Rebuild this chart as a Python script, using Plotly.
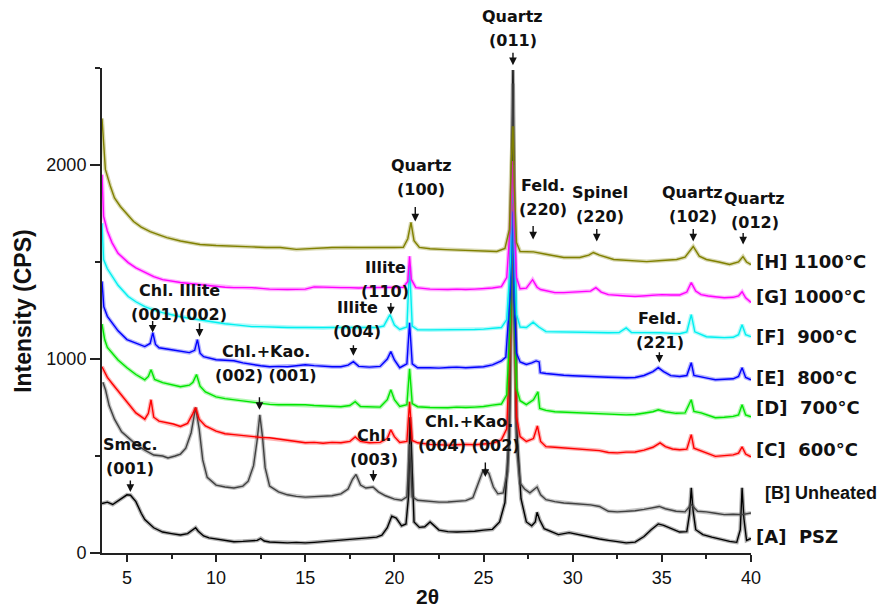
import plotly.graph_objects as go

# ---------------- data (2theta, intensity CPS) ----------------
two_theta_A = [3.6, 3.9, 4.2, 4.5, 4.8, 5.0, 5.2, 5.5, 5.8, 6.0, 6.5, 7.0, 7.5, 8.0, 8.4, 8.7, 8.85, 9.0, 9.3, 9.6,
               10.0, 10.5, 11.0, 11.5, 12.0, 12.3, 12.5, 12.7, 13.0, 13.5, 14.0, 14.5, 15.0, 15.5, 16.0, 16.5, 17.0, 17.5, 18.0, 18.5,
               19.0, 19.3, 19.6, 19.85, 20.1, 20.4, 20.65, 20.8, 20.87, 20.95, 21.1, 21.4, 21.7, 22.0, 22.2, 22.5, 23.0, 23.5, 24.0, 24.5,
               25.0, 25.5, 25.9, 26.2, 26.45, 26.58, 26.65, 26.72, 26.85, 27.1, 27.4, 27.7, 27.9, 28.0, 28.15, 28.4, 28.8, 29.2, 29.8, 30.3,
               30.8, 31.5, 32.0, 32.5, 33.0, 33.5, 34.0, 34.4, 34.8, 35.1, 35.5, 36.0, 36.4, 36.55, 36.65, 36.75, 36.9, 37.3, 37.8, 38.3,
               38.8, 39.2, 39.4, 39.5, 39.6, 39.75, 40.0]
psz = [255, 262, 250, 270, 290, 300, 298, 265, 205, 172, 130, 108, 100, 93, 100, 118, 130, 112, 88, 78,
       72, 65, 58, 60, 62, 65, 75, 62, 57, 55, 52, 55, 52, 55, 58, 62, 66, 70, 74, 77,
       82, 92, 130, 190, 180, 140, 150, 300, 700, 560, 160, 132, 135, 160, 145, 118, 110, 108, 110, 112,
       118, 122, 160, 260, 600, 1800, 2490, 1700, 650, 280, 160, 140, 160, 210, 170, 125, 108, 95, 105, 95,
       85, 72, 65, 60, 52, 56, 85, 120, 150, 142, 125, 108, 110, 200, 336, 220, 120, 95, 82, 70,
       60, 55, 120, 336, 180, 65, 75]

two_theta_B = [3.65, 3.8, 4.0, 4.3, 4.7, 5.0, 5.5, 6.0, 6.5, 7.0, 7.3, 7.7, 8.0, 8.3, 8.6, 8.85, 9.05, 9.25, 9.5, 10.0,
               10.5, 11.0, 11.5, 11.8, 12.1, 12.3, 12.45, 12.6, 12.75, 13.0, 13.5, 14.0, 14.5, 15.0, 15.5, 16.0, 16.5, 17.0, 17.4, 17.65,
               17.85, 18.1, 18.4, 18.8, 19.1, 19.5, 20.0, 20.4, 20.7, 20.85, 21.0, 21.3, 22.0, 22.5, 23.0, 23.5, 24.0, 24.4, 24.7, 24.95,
               25.1, 25.3, 25.55, 25.8, 26.1, 26.35, 26.5, 26.6, 26.65, 26.72, 26.85, 27.05, 27.3, 27.6, 28.0, 28.2, 28.5, 29.0, 29.5, 30.0,
               31.0, 31.5, 32.0, 32.5, 33.0, 33.5, 34.0, 34.5, 34.85, 35.2, 35.8, 36.3, 36.65, 37.0, 37.5, 38.0, 38.5, 39.0, 39.5, 40.0]
unheated = [880, 840, 760, 690, 625, 600, 560, 530, 505, 500, 490, 500, 510, 540, 620, 750, 640, 480, 390, 350,
            340, 335, 345, 370, 450, 580, 712, 600, 440, 345, 315, 300, 292, 288, 290, 292, 295, 305, 330, 380,
            405, 350, 335, 340, 315, 295, 278, 272, 290, 560, 290, 272, 265, 262, 263, 266, 270, 285, 360, 420,
            428, 410, 340, 305, 310, 420, 900, 2200, 2420, 1500, 550, 360, 330, 310, 340, 300, 275, 265, 258, 255,
            248, 240, 215, 212, 215, 218, 225, 232, 240, 228, 215, 212, 250, 215, 212, 205, 198, 200, 198, 206]

two_theta_C = [3.6, 3.75, 3.9, 4.2, 4.5, 5.0, 5.5, 6.0, 6.2, 6.35, 6.5, 6.8, 7.2, 7.6, 8.0, 8.4, 8.7, 8.85, 9.05, 9.4,
               10.0, 10.5, 11.0, 11.5, 12.0, 12.5, 13.0, 13.5, 14.0, 14.5, 15.0, 15.5, 16.0, 16.5, 17.0, 17.5, 17.8, 18.1, 18.6, 19.2,
               19.6, 19.8, 20.0, 20.3, 20.7, 20.85, 21.0, 21.3, 22.0, 22.5, 23.0, 23.5, 24.0, 24.5, 25.0, 25.5, 26.0, 26.3, 26.5, 26.6,
               26.65, 26.72, 26.85, 27.05, 27.4, 27.8, 28.02, 28.2, 28.5, 29.0, 29.5, 30.0, 30.5, 31.0, 31.5, 32.0, 32.5, 33.0, 33.5, 34.0,
               34.5, 34.9, 35.2, 35.6, 36.0, 36.4, 36.65, 36.8, 37.2, 37.6, 38.0, 38.5, 39.0, 39.3, 39.5, 39.7, 40.0]
c600 = [960, 930, 905, 870, 835, 775, 722, 690, 720, 790, 700, 680, 672, 665, 652, 668, 720, 750, 690, 655,
        628, 615, 610, 605, 600, 596, 594, 588, 584, 575, 568, 570, 566, 570, 568, 575, 598, 575, 568, 570,
        590, 635, 600, 570, 575, 780, 580, 568, 560, 558, 556, 558, 560, 558, 562, 566, 583, 640, 1100, 1700,
        1800, 1300, 700, 600, 575, 590, 655, 575, 548, 545, 542, 538, 535, 532, 528, 518, 516, 520, 521, 530,
        545, 568, 548, 536, 532, 535, 610, 540, 528, 512, 498, 502, 506, 515, 547, 510, 496]

two_theta_D = [3.6, 3.75, 3.9, 4.2, 4.5, 5.0, 5.5, 6.0, 6.2, 6.35, 6.55, 7.0, 7.5, 8.0, 8.5, 8.7, 8.9, 9.1, 9.4, 10.0,
               10.5, 11.0, 11.5, 12.0, 12.5, 13.0, 13.5, 14.0, 14.5, 15.0, 15.5, 16.0, 16.5, 17.0, 17.5, 17.8, 18.1, 18.6, 19.2, 19.6,
               19.8, 20.0, 20.3, 20.7, 20.85, 21.0, 21.3, 22.0, 22.5, 23.0, 23.5, 24.0, 24.5, 25.0, 25.5, 26.0, 26.3, 26.5, 26.6, 26.65,
               26.72, 26.85, 27.05, 27.4, 27.8, 28.05, 28.15, 28.5, 29.0, 29.5, 30.0, 31.0, 31.5, 32.0, 33.0, 33.5, 34.0, 34.5, 34.8, 35.2,
               35.8, 36.3, 36.65, 36.8, 37.2, 37.6, 38.0, 38.5, 39.0, 39.3, 39.5, 39.7, 40.0]
c700 = [1180, 1100, 1060, 1025, 995, 955, 920, 893, 910, 945, 895, 878, 868, 857, 865, 880, 920, 860, 830, 805,
        796, 790, 785, 780, 775, 766, 764, 764, 762, 764, 760, 758, 756, 754, 760, 780, 755, 752, 752, 790,
        841, 790, 755, 765, 950, 770, 754, 750, 748, 749, 752, 750, 752, 755, 762, 768, 815, 1200, 1650, 1700,
        1250, 850, 785, 765, 790, 831, 745, 735, 728, 726, 724, 722, 720, 716, 712, 714, 720, 728, 738, 728,
        720, 722, 790, 730, 722, 708, 697, 700, 704, 712, 764, 712, 702]

two_theta_E = [3.6, 3.7, 3.9, 4.16, 4.5, 5.0, 5.5, 6.0, 6.3, 6.45, 6.6, 6.8, 7.5, 8.0, 8.5, 8.8, 8.95, 9.1, 9.3, 10.0,
               10.5, 11.0, 11.5, 12.0, 12.5, 13.0, 13.5, 14.0, 14.5, 15.0, 15.5, 16.0, 16.5, 17.0, 17.4, 17.7, 18.0, 18.6, 19.2, 19.6,
               19.8, 20.0, 20.3, 20.7, 20.85, 21.0, 21.3, 22.0, 22.5, 23.0, 23.5, 24.0, 24.5, 25.0, 25.5, 26.0, 26.25, 26.5, 26.6, 26.65,
               26.72, 26.85, 27.05, 27.4, 27.7, 27.95, 28.12, 28.18, 28.5, 29.0, 29.5, 30.0, 31.0, 31.5, 32.0, 33.0, 33.5, 34.0, 34.5, 34.8,
               35.1, 35.5, 36.0, 36.4, 36.65, 36.8, 37.2, 37.6, 38.0, 38.5, 39.0, 39.3, 39.5, 39.7, 40.0]
c800 = [1400, 1270, 1220, 1187, 1145, 1100, 1084, 1064, 1080, 1136, 1075, 1058, 1048, 1040, 1033, 1045, 1100, 1030, 1012, 996,
        994, 991, 980, 971, 965, 960, 962, 960, 965, 970, 966, 962, 960, 960, 968, 986, 962, 958, 962, 1000,
        1038, 995, 955, 975, 1187, 975, 955, 955, 953, 956, 958, 955, 958, 960, 970, 990, 1010, 1350, 1700, 1760,
        1300, 1030, 985, 972, 980, 990, 985, 930, 925, 919, 916, 914, 909, 908, 906, 903, 905, 915, 935, 955,
        935, 914, 910, 915, 981, 915, 909, 900, 893, 895, 898, 910, 955, 905, 893]

two_theta_F = [3.6, 3.69, 3.9, 4.16, 4.5, 5.07, 5.5, 6.0, 6.5, 7.0, 7.5, 8.0, 8.5, 9.0, 9.5, 10.0, 10.5, 11.0, 11.5, 12.0,
               12.5, 13.0, 13.5, 14.0, 14.5, 15.0, 15.5, 16.0, 16.5, 17.0, 17.5, 18.0, 18.5, 19.0, 19.4, 19.75, 20.0, 20.3, 20.7, 20.85,
               21.0, 21.3, 22.0, 22.5, 23.0, 23.5, 24.0, 24.5, 25.0, 25.5, 26.0, 26.3, 26.5, 26.6, 26.65, 26.72, 26.85, 27.05, 27.4, 27.78,
               28.1, 28.5, 29.0, 29.5, 30.0, 31.0, 31.5, 32.0, 32.6, 33.0, 33.3, 34.0, 34.5, 35.0, 35.5, 36.0, 36.4, 36.65, 36.85, 37.5,
               38.0, 38.5, 39.0, 39.3, 39.5, 39.7, 40.0]
c900 = [1700, 1513, 1465, 1425, 1380, 1322, 1295, 1270, 1252, 1239, 1228, 1218, 1210, 1203, 1195, 1187, 1182, 1177, 1172, 1167,
        1167, 1167, 1164, 1162, 1162, 1162, 1160, 1160, 1162, 1162, 1160, 1160, 1162, 1162, 1170, 1229, 1175, 1152, 1165, 1480,
        1170, 1151, 1150, 1150, 1151, 1152, 1150, 1152, 1154, 1158, 1162, 1203, 1500, 1900, 2000, 1600, 1230, 1165, 1162, 1190,
        1165, 1141, 1140, 1138, 1136, 1136, 1136, 1135, 1136, 1160, 1136, 1136, 1136, 1135, 1132, 1130, 1140, 1229, 1140, 1115,
        1112, 1110, 1112, 1125, 1177, 1125, 1115]

two_theta_G = [3.6, 3.69, 3.9, 4.16, 4.5, 5.07, 5.5, 6.0, 6.5, 7.0, 7.5, 8.0, 8.5, 9.0, 9.5, 10.0, 10.5, 11.0, 11.5, 12.0,
               12.5, 13.0, 14.0, 15.0, 15.5, 16.0, 16.5, 17.0, 17.5, 18.0, 18.5, 19.0, 19.5, 20.0, 20.5, 20.75, 20.85, 20.95, 21.2, 22.0,
               22.5, 23.0, 23.5, 24.0, 24.5, 25.0, 25.5, 26.0, 26.3, 26.5, 26.6, 26.65, 26.72, 26.85, 27.05, 27.4, 27.75, 28.0, 28.2, 28.6,
               29.0, 29.5, 30.0, 30.5, 31.0, 31.3, 31.6, 32.0, 32.5, 33.0, 33.5, 34.0, 34.5, 35.0, 35.5, 36.0, 36.4, 36.65, 36.9, 37.2,
               37.6, 38.0, 38.5, 39.0, 39.3, 39.5, 39.7, 40.0]
c1000 = [1950, 1735, 1660, 1600, 1545, 1497, 1470, 1446, 1425, 1409, 1400, 1394, 1389, 1384, 1378, 1373, 1370, 1368, 1368, 1368,
         1364, 1360, 1358, 1360, 1372, 1370, 1368, 1368, 1368, 1366, 1368, 1368, 1368, 1368, 1370, 1400, 1530, 1410, 1368, 1360,
         1358, 1358, 1360, 1358, 1360, 1362, 1366, 1373, 1420, 1700, 1950, 2020, 1700, 1420, 1362, 1365, 1409, 1370, 1358, 1350,
         1342, 1342, 1345, 1345, 1350, 1368, 1345, 1332, 1330, 1325, 1322, 1325, 1330, 1332, 1330, 1330, 1345, 1394, 1350, 1332,
         1325, 1320, 1316, 1318, 1325, 1347, 1315, 1291]

two_theta_H = [3.6, 3.7, 3.79, 4.07, 4.3, 4.63, 5.0, 5.37, 5.8, 6.3, 6.8, 7.24, 8.0, 8.5, 9.1, 10.0, 10.97, 12.0, 12.8, 13.6,
               14.5, 15.5, 16.5, 17.3, 18.0, 19.0, 20.0, 20.5, 20.75, 20.93, 21.1, 21.4, 22.0, 22.9, 24.0, 25.0, 25.74, 26.2, 26.45, 26.55,
               26.65, 26.72, 26.85, 27.05, 27.8, 28.5, 29.5, 30.4, 30.9, 31.16, 31.5, 32.3, 33.0, 34.15, 35.0, 35.83, 36.3, 36.76, 37.1, 37.5,
               38.2, 38.8, 39.3, 39.55, 39.75, 40.0]
c1100 = [2240, 2100, 1977, 1890, 1830, 1786, 1745, 1709, 1680, 1657, 1640, 1626, 1608, 1600, 1590, 1585, 1580, 1578, 1575, 1575,
         1565, 1570, 1575, 1575, 1574, 1575, 1575, 1576, 1620, 1704, 1610, 1575, 1568, 1564, 1560, 1556, 1554, 1570, 1668, 2000,
         2200, 1900, 1600, 1554, 1552, 1540, 1523, 1523, 1535, 1549, 1535, 1513, 1508, 1502, 1508, 1513, 1525, 1580, 1530, 1513,
         1500, 1487, 1500, 1528, 1500, 1487]

series_names = ["[A]\u00a0 PSZ", "[B] Unheated", "[C]\u00a0 600°C", "[D]\u00a0 700°C",
                "[E]\u00a0 800°C", "[F]\u00a0 900°C", "[G] 1000°C", "[H] 1100°C"]
series_x = [two_theta_A, two_theta_B, two_theta_C, two_theta_D, two_theta_E, two_theta_F, two_theta_G, two_theta_H]
series_y = [psz, unheated, c600, c700, c800, c900, c1000, c1100]
series_colors = ["#000000", "#404040", "#ff0000", "#00e600", "#0000ff", "#00f0f0", "#ff00ff", "#808000"]

X_RANGE = [3.6, 40]
Y_RANGE = [0, 2500]
x_ticks = [5, 10, 15, 20, 25, 30, 35, 40]
y_ticks = [0, 1000, 2000]

# label anchor (2theta, intensity) for the right-hand series labels
label_pos = [(40.32, 83), (40.85, 310), (40.32, 532), (40.32, 749), (40.32, 903), (40.32, 1115), (40.32, 1322), (40.32, 1502)]

# peak labels: (line1, line2, text_x, text_y, [(arrow_x, arrow_tip_y, arrow_len_px), ...])
peak_labels = [
    ("Quartz", "(011)", 26.65, 2705, [(26.65, 2514, 14)]),
    ("Quartz", "(100)", 21.5, 1936, [(21.17, 1709, 16)]),
    ("Feld.", "(220)", 28.34, 1833, [(27.78, 1616, 15)]),
    ("Spinel", "(220)", 31.53, 1797, [(31.35, 1606, 14)]),
    ("Quartz", "(102)", 36.74, 1797, [(36.76, 1606, 14)]),
    ("Quartz", "(012)", 40.2, 1766, [(39.56, 1590, 13)]),
    ("Illite", "(110)", 19.48, 1409, [(19.8, 1229, 13)]),
    ("Illite", "(004)", 17.91, 1203, [(17.7, 1017, 12)]),
    ("Chl. Illite", "(001)(002)", 7.93, 1291, [(6.44, 1136, 13), (9.07, 1115, 15)]),
    ("Chl.+Kao.", "(002) (001)", 12.82, 976, [(12.43, 738, 14)]),
    ("Smec.", "(001)", 5.19, 500, [(5.19, 315, 13)]),
    ("Chl.", "(003)", 18.86, 542, [(18.82, 367, 13)]),
    ("Chl.+Kao.", "(004) (002)", 24.19, 614, [(25.1, 392, 16)]),
    ("Feld.", "(221)", 34.89, 1146, [(34.86, 981, 12)]),
]

FONT = "Liberation Sans, Arial, sans-serif"
LABEL_FONT = "DejaVu Sans, Liberation Sans, sans-serif"


def px(x):
    return (x - X_RANGE[0]) / (X_RANGE[1] - X_RANGE[0])


def py(y):
    return (y - Y_RANGE[0]) / (Y_RANGE[1] - Y_RANGE[0])


fig = go.Figure()
for xs, ys, col, name in zip(series_x, series_y, series_colors, series_names):
    assert len(xs) == len(ys), name
    fig.add_trace(go.Scatter(x=xs, y=ys, mode="lines", line=dict(color=col, width=4),
                             opacity=0.3, hoverinfo="skip", showlegend=False))
    fig.add_trace(go.Scatter(x=xs, y=ys, mode="lines", line=dict(color=col, width=1.4),
                             name=name, showlegend=False))

ann = []
for (lx, ly), name in zip(label_pos, series_names):
    fam = FONT if name.startswith("[B]") else LABEL_FONT
    ann.append(dict(x=px(lx), y=py(ly), xref="paper", yref="paper", text=name, showarrow=False,
                    xanchor="left", yanchor="middle", xshift=-3,
                    font=dict(family=fam, size=18, color="#111", weight="bold")))
for l1, l2, tx, ty, arrows in peak_labels:
    for line, shift in ((l1, 12), (l2, -12)):
        ann.append(dict(x=px(tx), y=py(ty), xref="paper", yref="paper", text=line, showarrow=False,
                        xanchor="center", yanchor="middle", yshift=shift,
                        font=dict(family=LABEL_FONT, size=16, color="#111", weight="bold")))
    for axx, tip, ln in arrows:
        ann.append(dict(x=px(axx), y=py(tip), xref="paper", yref="paper", text="", showarrow=True,
                        ax=0, ay=-ln, arrowhead=2, arrowsize=1.1, arrowwidth=1.4,
                        arrowcolor="#111"))

ann.append(dict(x=-0.1227, y=0.5, xref="paper", yref="paper", text="Intensity (CPS)",
                textangle=-90, showarrow=False, xanchor="center", yanchor="middle",
                font=dict(family=FONT, size=23, color="#111", weight="bold")))
ann.append(dict(x=0.501, y=-0.0907, xref="paper", yref="paper", text="2θ",
                showarrow=False, xanchor="center", yanchor="middle",
                font=dict(family=FONT, size=21, color="#111", weight="bold")))

fig.update_layout(
    width=882, height=610, autosize=False,
    margin=dict(l=102, r=131, t=68, b=57),
    paper_bgcolor="white", plot_bgcolor="white",
    annotations=ann,
    xaxis=dict(range=X_RANGE, tickvals=x_ticks, ticks="outside", ticklen=7, tickwidth=2,
               tickcolor="#222", showline=True, linewidth=2, linecolor="#222",
               showgrid=False, zeroline=False,
               tickfont=dict(family=FONT, size=18, color="#111"),
               minor=dict(dtick=2.5, tick0=0, ticks="outside", ticklen=4, tickwidth=1.5, tickcolor="#222", showgrid=False)),
    yaxis=dict(range=Y_RANGE, tickvals=y_ticks, ticks="outside", ticklen=10, tickwidth=2,
               tickcolor="#222", showline=True, linewidth=2, linecolor="#222",
               showgrid=False, zeroline=False,
               tickfont=dict(family=FONT, size=18, color="#111"),
               minor=dict(dtick=500, tick0=0, ticks="outside", ticklen=5, tickwidth=1.5, tickcolor="#222", showgrid=False)),
)

fig.write_html("out.html")
